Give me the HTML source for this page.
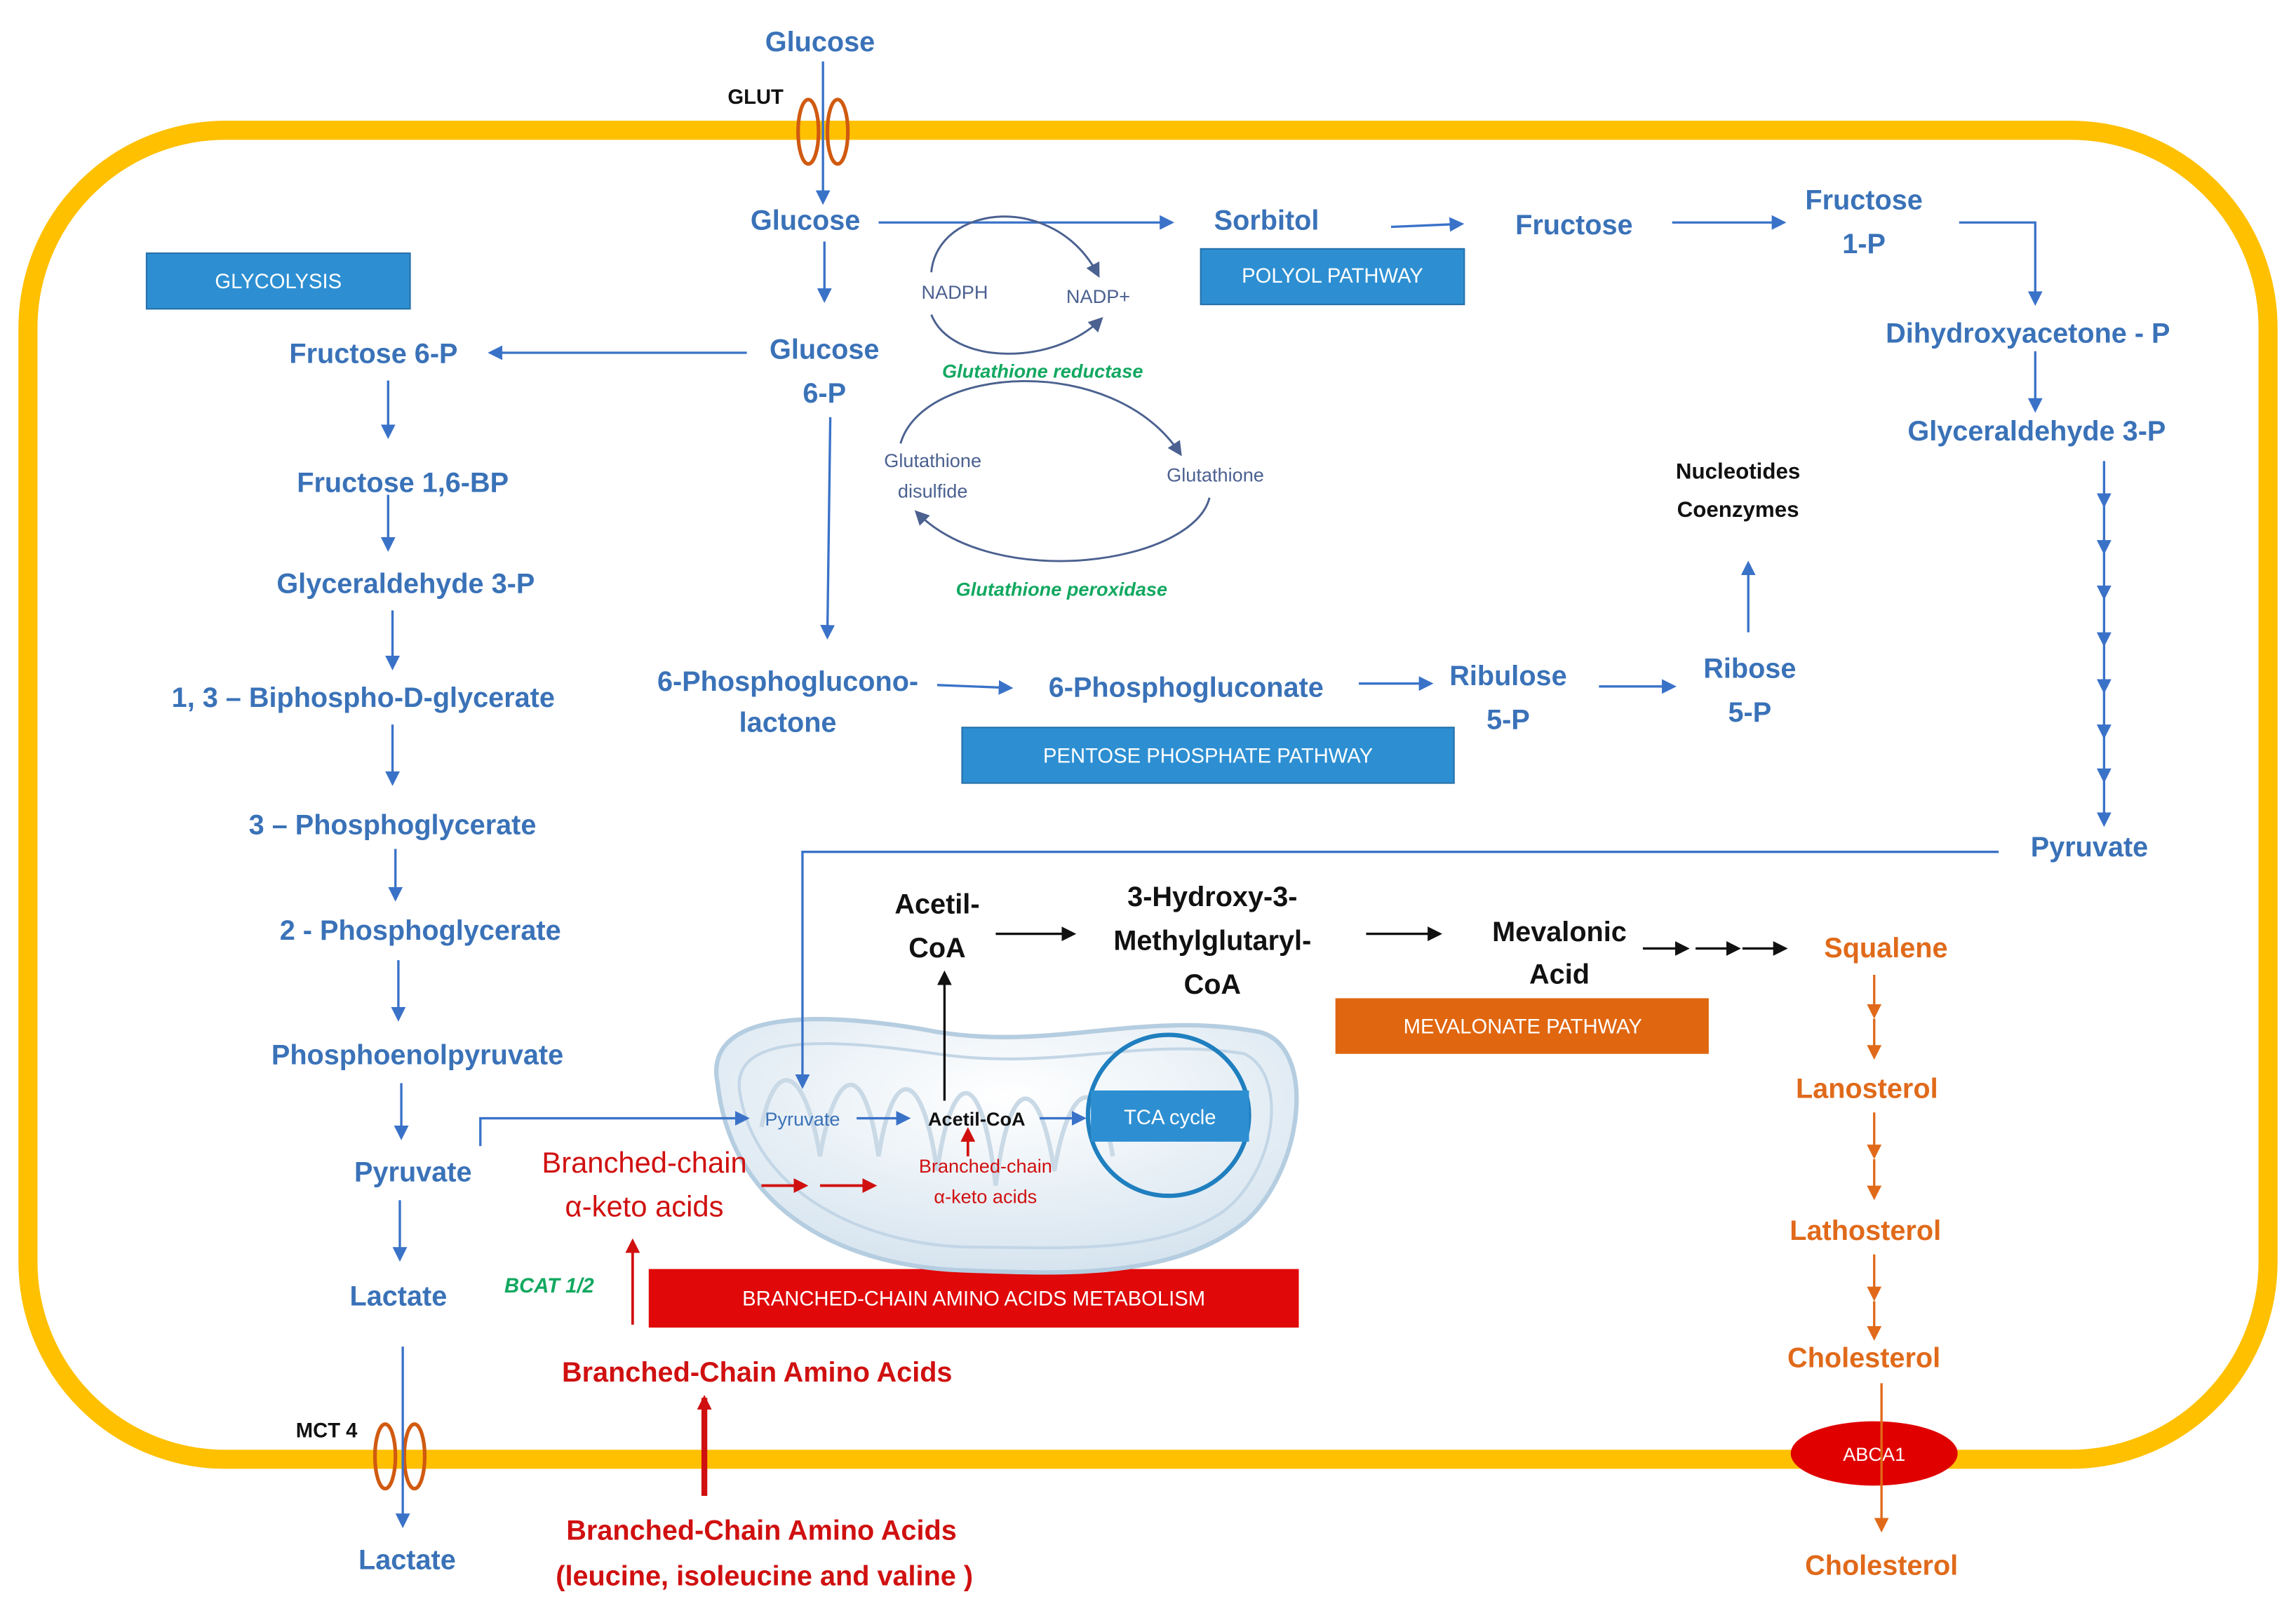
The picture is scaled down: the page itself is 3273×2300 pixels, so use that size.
<!DOCTYPE html>
<html><head><meta charset="utf-8"><style>
html,body{margin:0;padding:0;background:#fff;}
svg{display:block}
text{font-family:"Liberation Sans",sans-serif;}
.b{fill:#3a72b8;font-weight:bold;font-size:19px;text-anchor:middle;}
.k{fill:#111;font-weight:bold;font-size:19px;text-anchor:middle;}
.o{fill:#e06a1a;font-weight:bold;font-size:19px;text-anchor:middle;}
.r{fill:#d01010;font-weight:bold;font-size:19px;text-anchor:middle;}
.s{fill:#4b6190;font-size:13px;text-anchor:middle;}
.g{fill:#12a860;font-size:13px;font-style:italic;font-weight:bold;text-anchor:middle;}
.w{fill:#fff;font-size:14px;text-anchor:middle;}
</style></head><body>
<svg width="3273" height="2300" viewBox="0 0 1568 1102" xmlns="http://www.w3.org/2000/svg">
<defs>
<marker id="ab" markerWidth="10" markerHeight="10" refX="8" refY="5" orient="auto" markerUnits="userSpaceOnUse"><path d="M0,0 L10,5 L0,10 z" fill="#3a72c8"/></marker>
<marker id="ak" markerWidth="10" markerHeight="10" refX="8" refY="5" orient="auto" markerUnits="userSpaceOnUse"><path d="M0,0 L10,5 L0,10 z" fill="#111"/></marker>
<marker id="ao" markerWidth="10" markerHeight="10" refX="8" refY="5" orient="auto" markerUnits="userSpaceOnUse"><path d="M0,0 L10,5 L0,10 z" fill="#e06a1a"/></marker>
<marker id="ar" markerWidth="10" markerHeight="10" refX="8" refY="5" orient="auto" markerUnits="userSpaceOnUse"><path d="M0,0 L10,5 L0,10 z" fill="#d01010"/></marker>
<marker id="ag" markerWidth="10" markerHeight="10" refX="8" refY="5" orient="auto" markerUnits="userSpaceOnUse"><path d="M0,0 L10,5 L0,10 z" fill="#4b6190"/></marker>
<radialGradient id="mg" cx="0.5" cy="0.3" r="0.7"><stop offset="0" stop-color="#ffffff"/><stop offset="1" stop-color="#d6e4ef"/></radialGradient>
</defs>

<!-- membrane -->
<rect x="19" y="89" width="1530" height="908" rx="135" ry="135" fill="none" stroke="#ffc000" stroke-width="13"/>

<!-- boxes -->
<rect x="100" y="173" width="180" height="38" fill="#2d8fd2" stroke="#2570a8"/>
<text class="w" x="190" y="197">GLYCOLYSIS</text>
<rect x="820" y="170" width="180" height="38" fill="#2d8fd2" stroke="#2570a8"/>
<text class="w" x="910" y="193">POLYOL PATHWAY</text>
<rect x="657" y="497" width="336" height="38" fill="#2d8fd2" stroke="#2570a8"/>
<text class="w" x="825" y="521">PENTOSE PHOSPHATE PATHWAY</text>
<rect x="912" y="682" width="255" height="38" fill="#e0660f"/>
<text class="w" x="1040" y="706">MEVALONATE PATHWAY</text>
<rect x="443" y="867" width="444" height="40" fill="#e00808"/>
<text class="w" x="665" y="892">BRANCHED-CHAIN AMINO ACIDS METABOLISM</text>

<!-- mitochondrion -->
<path d="M490,740 C480,690 560,690 640,705 C720,718 780,690 860,705 C900,715 890,800 850,835 C800,875 720,870 660,868 C580,866 500,830 490,740 z" fill="url(#mg)" stroke="#b5cde0" stroke-width="3"/>
<path d="M505,745 C500,705 570,710 640,720 C720,732 780,708 850,720 C880,735 872,800 835,828 C790,858 720,852 660,852 C590,850 515,815 505,745 z" fill="none" stroke="#c3d6e6" stroke-width="2"/>
<path d="M520,770 C530,720 550,730 560,790 C570,730 590,720 600,790 C610,725 630,730 640,800 C650,730 670,725 680,810 C690,730 710,735 720,800 C730,740 750,730 760,790" fill="none" stroke="#c9d9e6" stroke-width="3"/>
<circle cx="798" cy="762" r="55" fill="none" stroke="#1f7fbf" stroke-width="3"/>
<rect x="745" y="745" width="108" height="35" fill="#2d8fd2"/>
<text class="w" x="799" y="768">TCA cycle</text>

<!-- transporters -->
<g fill="none" stroke="#d05a10" stroke-width="2.5">
<ellipse cx="552" cy="90" rx="7" ry="22"/><ellipse cx="572" cy="90" rx="7" ry="22"/>
<ellipse cx="263" cy="995" rx="7" ry="22"/><ellipse cx="283" cy="995" rx="7" ry="22"/>
</g>
<ellipse cx="1280" cy="993" rx="57" ry="22" fill="#e00000"/>
<text class="w" x="1280" y="998" style="font-size:13px">ABCA1</text>

<!-- blue arrows -->
<g stroke="#3a72c8" stroke-width="1.6" fill="none" marker-end="url(#ab)">
<line x1="562" y1="42" x2="562" y2="138"/>
<line x1="600" y1="152" x2="800" y2="152"/>
<line x1="950" y1="155" x2="998" y2="153"/>
<line x1="1142" y1="152" x2="1218" y2="152"/>
<polyline points="1338,152 1390,152 1390,207"/>
<line x1="1390" y1="240" x2="1390" y2="280"/>
<line x1="563" y1="165" x2="563" y2="205"/>
<line x1="510" y1="241" x2="335" y2="241"/>
<line x1="567" y1="285" x2="565" y2="435"/>
<line x1="640" y1="468" x2="690" y2="470"/>
<line x1="928" y1="467" x2="977" y2="467"/>
<line x1="1092" y1="469" x2="1143" y2="469"/>
<line x1="1194" y1="432" x2="1194" y2="385"/>
<line x1="265" y1="260" x2="265" y2="298"/>
<line x1="265" y1="338" x2="265" y2="375"/>
<line x1="268" y1="417" x2="268" y2="456"/>
<line x1="268" y1="495" x2="268" y2="535"/>
<line x1="270" y1="580" x2="270" y2="614"/>
<line x1="272" y1="656" x2="272" y2="696"/>
<line x1="274" y1="740" x2="274" y2="777"/>
<line x1="273" y1="820" x2="273" y2="860"/>
<line x1="275" y1="920" x2="275" y2="1042"/>
<polyline points="328,783 328,764 510,764"/>
<polyline points="1365,582 548,582 548,742"/>
<line x1="585" y1="764" x2="620" y2="764"/>
<line x1="710" y1="764" x2="740" y2="764"/>
<line x1="1437" y1="315" x2="1437" y2="345"/>
<line x1="1437" y1="345" x2="1437" y2="377"/>
<line x1="1437" y1="377" x2="1437" y2="408"/>
<line x1="1437" y1="408" x2="1437" y2="440"/>
<line x1="1437" y1="440" x2="1437" y2="472"/>
<line x1="1437" y1="472" x2="1437" y2="503"/>
<line x1="1437" y1="503" x2="1437" y2="533"/>
<line x1="1437" y1="533" x2="1437" y2="563"/>
</g>
<!-- glutathione arcs -->
<g stroke="#4b6190" stroke-width="1.4" fill="none" marker-end="url(#ag)">
<path d="M636,186 C640,140 720,130 750,188"/>
<path d="M636,215 C650,250 720,250 752,218"/>
<path d="M615,303 C630,250 760,240 806,310"/>
<path d="M826,340 C815,385 680,405 626,350"/>
</g>
<!-- black arrows -->
<g stroke="#111" stroke-width="1.6" fill="none" marker-end="url(#ak)">
<line x1="645" y1="752" x2="645" y2="665"/>
<line x1="680" y1="638" x2="733" y2="638"/>
<line x1="933" y1="638" x2="983" y2="638"/>
<line x1="1122" y1="648" x2="1152" y2="648"/>
<line x1="1158" y1="648" x2="1187" y2="648"/>
<line x1="1190" y1="648" x2="1219" y2="648"/>
</g>
<!-- orange arrows -->
<g stroke="#e06a1a" stroke-width="1.6" fill="none" marker-end="url(#ao)">
<line x1="1280" y1="666" x2="1280" y2="694"/><line x1="1280" y1="696" x2="1280" y2="722"/>
<line x1="1280" y1="760" x2="1280" y2="790"/><line x1="1280" y1="792" x2="1280" y2="818"/>
<line x1="1280" y1="857" x2="1280" y2="887"/><line x1="1280" y1="889" x2="1280" y2="914"/>
<line x1="1285" y1="945" x2="1285" y2="1045"/>
</g>
<!-- red arrows -->
<g stroke="#d01010" stroke-width="1.8" fill="none" marker-end="url(#ar)">
<line x1="520" y1="810" x2="550" y2="810"/>
<line x1="560" y1="810" x2="597" y2="810"/>
<line x1="661" y1="790" x2="661" y2="772"/>
<line x1="432" y1="905" x2="432" y2="848"/>
<line x1="481" y1="1022" x2="481" y2="955" stroke-width="4"/>
</g>

<!-- labels -->
<text class="b" x="560" y="35">Glucose</text>
<text x="516" y="71" style="font-size:14px;font-weight:bold;fill:#111;text-anchor:middle">GLUT</text>
<text class="b" x="550" y="157">Glucose</text>
<text class="b" x="865" y="157">Sorbitol</text>
<text class="b" x="1075" y="160">Fructose</text>
<text class="b" x="1273" y="143">Fructose</text>
<text class="b" x="1273" y="173">1-P</text>
<text class="b" x="1385" y="234">Dihydroxyacetone - P</text>
<text class="b" x="1391" y="301">Glyceraldehyde 3-P</text>
<text class="b" x="1427" y="585">Pyruvate</text>
<text class="s" x="652" y="204">NADPH</text>
<text class="s" x="750" y="207">NADP+</text>
<text class="g" x="712" y="258">Glutathione reductase</text>
<text class="b" x="563" y="245">Glucose</text>
<text class="b" x="563" y="275">6-P</text>
<text class="s" x="637" y="319">Glutathione</text>
<text class="s" x="637" y="340">disulfide</text>
<text class="s" x="830" y="329">Glutathione</text>
<text class="g" x="725" y="407">Glutathione peroxidase</text>
<text x="1187" y="327" style="font-size:15px;font-weight:bold;fill:#111;text-anchor:middle">Nucleotides</text>
<text x="1187" y="353" style="font-size:15px;font-weight:bold;fill:#111;text-anchor:middle">Coenzymes</text>
<text class="b" x="538" y="472">6-Phosphoglucono-</text>
<text class="b" x="538" y="500">lactone</text>
<text class="b" x="810" y="476">6-Phosphogluconate</text>
<text class="b" x="1030" y="468">Ribulose</text>
<text class="b" x="1030" y="498">5-P</text>
<text class="b" x="1195" y="463">Ribose</text>
<text class="b" x="1195" y="493">5-P</text>
<text class="b" x="255" y="248">Fructose 6-P</text>
<text class="b" x="275" y="336">Fructose 1,6-BP</text>
<text class="b" x="277" y="405">Glyceraldehyde 3-P</text>
<text class="b" x="248" y="483">1, 3 – Biphospho-D-glycerate</text>
<text class="b" x="268" y="570">3 – Phosphoglycerate</text>
<text class="b" x="287" y="642">2 - Phosphoglycerate</text>
<text class="b" x="285" y="727">Phosphoenolpyruvate</text>
<text class="b" x="282" y="807">Pyruvate</text>
<text class="b" x="272" y="892">Lactate</text>
<text x="223" y="982" style="font-size:14px;font-weight:bold;fill:#111;text-anchor:middle">MCT 4</text>
<text class="b" x="278" y="1072">Lactate</text>
<text x="548" y="769" style="font-size:13px;fill:#3a72b8;text-anchor:middle">Pyruvate</text>
<text x="667" y="769" style="font-size:13px;font-weight:bold;fill:#111;text-anchor:middle">Acetil-CoA</text>
<text x="673" y="801" style="font-size:13px;fill:#d01010;text-anchor:middle">Branched-chain</text>
<text x="673" y="822" style="font-size:13px;fill:#d01010;text-anchor:middle">α-keto acids</text>
<text class="k" x="640" y="624">Acetil-</text>
<text class="k" x="640" y="654">CoA</text>
<text class="k" x="828" y="619">3-Hydroxy-3-</text>
<text class="k" x="828" y="649">Methylglutaryl-</text>
<text class="k" x="828" y="679">CoA</text>
<text class="k" x="1065" y="643">Mevalonic</text>
<text class="k" x="1065" y="672">Acid</text>
<text class="o" x="1288" y="654">Squalene</text>
<text class="o" x="1275" y="750">Lanosterol</text>
<text class="o" x="1274" y="847">Lathosterol</text>
<text class="o" x="1273" y="934">Cholesterol</text>
<text class="o" x="1285" y="1076">Cholesterol</text>
<text x="440" y="801" style="font-size:20px;fill:#d01010;text-anchor:middle">Branched-chain</text>
<text x="440" y="831" style="font-size:20px;fill:#d01010;text-anchor:middle">α-keto acids</text>
<text class="g" x="375" y="883" style="font-size:14px">BCAT 1/2</text>
<text class="r" x="517" y="944">Branched-Chain Amino Acids</text>
<text class="r" x="520" y="1052">Branched-Chain Amino Acids</text>
<text class="r" x="522" y="1083">(leucine, isoleucine and valine )</text>
</svg>
</body></html>
